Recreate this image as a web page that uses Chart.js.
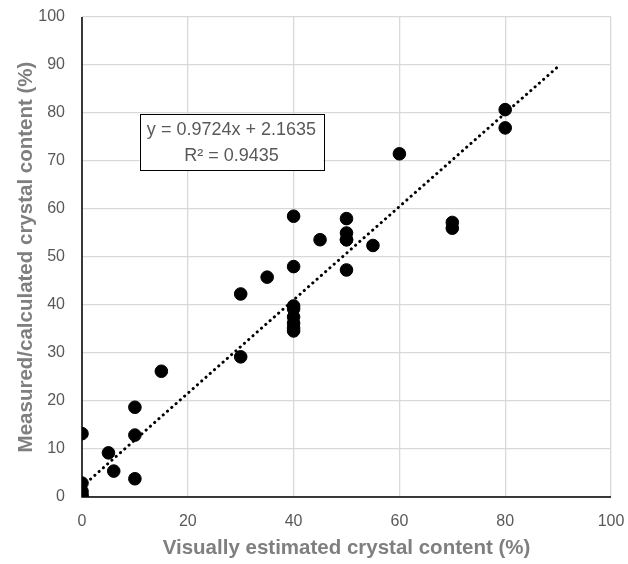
<!DOCTYPE html>
<html>
<head>
<meta charset="utf-8">
<script src="https://cdn.jsdelivr.net/npm/chart.js@4/dist/chart.umd.min.js"></script>
<style>
  html, body { margin: 0; padding: 0; background: #fff; }
  #wrap { width: 628px; height: 564px; }
</style>
</head>
<body>
<div id="wrap"><canvas id="myChart" width="628" height="564"></canvas></div>
<script>
// visually estimated vs measured/calculated crystal content (%)
const estimated = [0, 0, 0, 0, 0, 5, 6, 10, 10, 10, 15, 30, 30, 35, 40, 40, 40, 40, 40, 40, 40, 40, 45, 50, 50, 50, 50, 50, 55, 60, 70, 70, 80, 80];
const measured = [0, 0.5, 1.2, 2.9, 13.2, 9.2, 5.4, 3.8, 12.9, 18.7, 26.2, 29.2, 42.3, 45.8, 34.6, 35.2, 36.2, 37.5, 39.2, 39.8, 48.0, 58.5, 53.6, 47.3, 53.6, 55.0, 58.0, 53.6, 52.4, 71.5, 56.0, 57.2, 76.9, 80.7];

// linear trend (as printed on the chart)
const slope = 0.9724;
const intercept = 2.1635;
const trendX = [0, 90];
const eqLines = ['y = 0.9724x + 2.1635', 'R\u00b2 = 0.9435'];

const xTicks = [0, 20, 40, 60, 80, 100];
const yTicks = [0, 10, 20, 30, 40, 50, 60, 70, 80, 90, 100];

(() => {
    const ctx = document.getElementById('myChart').getContext('2d');

    const points = estimated.map((x, i) => ({x: x, y: measured[i]}));
    const trend = trendX.map(x => ({x: x, y: slope * x + intercept}));

    const eqBox = {
        id: 'eqBox',
        afterDatasetsDraw(chart) {
            const {ctx, scales: {x, y}} = chart;
            const x0 = x.getPixelForValue(10.9), x1 = x.getPixelForValue(45.6);
            const y0 = y.getPixelForValue(79.8), y1 = y.getPixelForValue(68.1);
            ctx.save();
            ctx.fillStyle = '#fff';
            ctx.fillRect(x0, y0, x1 - x0, y1 - y0);
            ctx.strokeStyle = '#000';
            ctx.lineWidth = 1;
            ctx.strokeRect(Math.round(x0) + 0.5, Math.round(y0) + 0.5, Math.round(x1 - x0), Math.round(y1 - y0));
            ctx.fillStyle = '#595959';
            ctx.font = '18px "Liberation Sans", Arial, sans-serif';
            ctx.textAlign = 'center';
            ctx.textBaseline = 'middle';
            const cx = (x0 + x1) / 2;
            ctx.fillText(eqLines[0], cx, y0 + 16.5);
            ctx.fillText(eqLines[1], cx, y0 + 42);
            ctx.restore();
        }
    };

    const axisLines = {
        id: 'axisLines',
        afterDatasetsDraw(chart) {
            const {ctx, chartArea: a} = chart;
            ctx.save();
            ctx.strokeStyle = '#000';
            ctx.lineWidth = 1.5;
            ctx.beginPath();
            ctx.moveTo(a.left, a.top);
            ctx.lineTo(a.left, a.bottom);
            ctx.lineTo(a.right, a.bottom);
            ctx.stroke();
            ctx.restore();
        }
    };

    const tickFont = {family: '"Liberation Sans", Arial, sans-serif', size: 16};
    const titleFont = {family: '"Liberation Sans", Arial, sans-serif', size: 20.5, weight: 'bold'};

    new Chart(ctx, {
        type: 'scatter',
        data: {
            datasets: [
                {
                    type: 'line',
                    label: 'Linear trend',
                    data: trend,
                    borderColor: '#000',
                    borderWidth: 3,
                    borderDash: [0.1, 5.6],
                    borderCapStyle: 'round',
                    pointRadius: 0,
                    fill: false
                },
                {
                    label: 'Samples',
                    data: points,
                    backgroundColor: '#000',
                    borderColor: '#000',
                    pointRadius: 6.3,
                    pointHoverRadius: 6.3
                }
            ]
        },
        options: {
            responsive: false,
            animation: false,
            layout: {padding: {left: 0, right: 17, top: 17, bottom: 0}},
            plugins: {
                legend: {display: false},
                tooltip: {enabled: false}
            },
            scales: {
                x: {
                    type: 'linear',
                    min: 0,
                    max: 100,
                    afterBuildTicks: s => { s.ticks = xTicks.map(v => ({value: v})); },
                    afterFit: s => { s.height = 67; s.paddingLeft = 0; s.paddingRight = 0; },
                    grid: {color: '#d9d9d9', lineWidth: 1.3, drawTicks: false},
                    border: {display: false},
                    ticks: {color: '#595959', font: tickFont, padding: 15, maxRotation: 0},
                    title: {display: true, text: 'Visually estimated crystal content (%)', color: '#7f7f7f', font: titleFont, padding: {top: 0, bottom: 3}}
                },
                y: {
                    type: 'linear',
                    min: 0,
                    max: 100,
                    afterBuildTicks: s => { s.ticks = yTicks.map(v => ({value: v})); },
                    afterFit: s => { s.width = 82; s.paddingTop = 0; s.paddingBottom = 0; },
                    grid: {color: '#d9d9d9', lineWidth: 1.3, drawTicks: false},
                    border: {display: false},
                    ticks: {color: '#595959', font: tickFont, padding: 17},
                    title: {display: true, text: 'Measured/calculated crystal content (%)', color: '#7f7f7f', font: titleFont, padding: {top: 14, bottom: 0}}
                }
            }
        },
        plugins: [axisLines, eqBox]
    });
})();
</script>
</body>
</html>
